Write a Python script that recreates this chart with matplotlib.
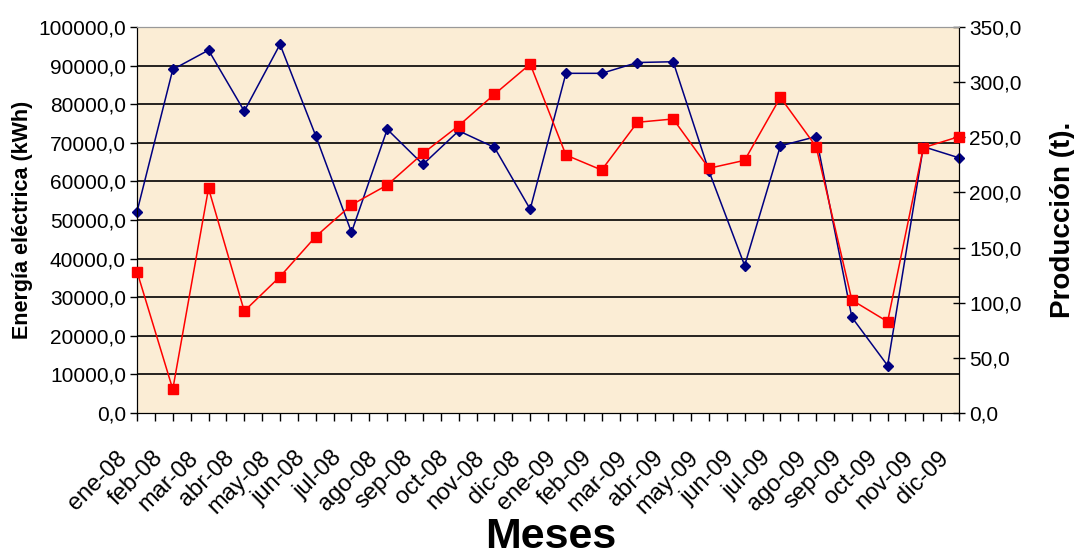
import numpy as np
from matplotlib import pyplot as plt
from matplotlib.ticker import FuncFormatter, MultipleLocator
from matplotlib.transforms import ScaledTranslation

meses = ['ene-08', 'feb-08', 'mar-08', 'abr-08', 'may-08', 'jun-08',
         'jul-08', 'ago-08', 'sep-08', 'oct-08', 'nov-08', 'dic-08',
         'ene-09', 'feb-09', 'mar-09', 'abr-09', 'may-09', 'jun-09',
         'jul-09', 'ago-09', 'sep-09', 'oct-09', 'nov-09', 'dic-09']

# energia electrica (kWh) - eje izquierdo
energia = [52200, 89000, 94000, 78200, 95500, 71800,
           46800, 73500, 64400, 73100, 68800, 52800,
           88000, 88000, 90800, 91000, 62700, 38200,
           69200, 71600, 24800, 12300, 69000, 66100]

# produccion (t) - eje derecho
produccion = [128.1, 21.5, 203.7, 92.4, 123.6, 160.0,
              188.7, 206.7, 235.4, 260.5, 289.0, 316.4,
              233.9, 220.3, 263.6, 266.6, 221.9, 229.1,
              286.2, 241.5, 102.4, 82.8, 240.6, 250.6]

plt.rcParams['font.family'] = ['Liberation Sans', 'DejaVu Sans']

fondo = '#FBEDD5'
coma = FuncFormatter(lambda v, p: ('%.1f' % v).replace('.', ','))

fig = plt.figure(figsize=(10.74, 5.59), dpi=100)
ax = fig.add_axes([0.1276, 0.2612, 0.7654, 0.6905])
ax.set_facecolor(fondo)
ax2 = ax.twinx()

x = np.arange(len(meses))
ax.plot(x, energia, color='#000080', lw=1.1, marker='D', ms=5.5, zorder=4, clip_on=False)
ax2.plot(x, produccion, color='#FF0000', lw=1.1, marker='s', ms=6.5, zorder=3, clip_on=False)

ax.set_xlim(0, len(meses) - 1)
ax.set_ylim(0, 100000)
ax2.set_ylim(0, 350)

ax.yaxis.set_major_locator(MultipleLocator(10000))
ax.yaxis.set_major_formatter(coma)
ax2.yaxis.set_major_locator(MultipleLocator(50))
ax2.yaxis.set_major_formatter(coma)

for g in range(10000, 100000, 10000):
    ax.axhline(g, color='black', lw=1.2, zorder=1)

ax.set_xticks(x)
ax.set_xticks(x[:-1] + 0.5, minor=True)
ax.set_xticklabels(meses, rotation=45, ha='right', rotation_mode='anchor')
ax.tick_params(axis='x', which='both', direction='out', length=6, width=1,
               labelsize=17, pad=12)
ax.tick_params(axis='y', direction='out', length=5, width=1, labelsize=15, pad=3)
ax2.tick_params(axis='y', direction='inout', length=9, width=1, labelsize=15, pad=3)

desplazar = ScaledTranslation(-0.21, -0.09, fig.dpi_scale_trans)
for lbl in ax.get_xticklabels():
    lbl.set_transform(lbl.get_transform() + desplazar)

for a in (ax, ax2):
    a.spines['top'].set_color('#999999')
    a.spines['left'].set_color('black')
    a.spines['right'].set_color('black')
    a.spines['bottom'].set_color('black')

ax.set_ylabel('Energía eléctrica (kWh)', fontsize=15.5, fontweight='bold', labelpad=4)
ax2.set_ylabel('Producción (t).', fontsize=20, fontweight='bold', labelpad=20)
fig.text(0.513, 0.003, 'Meses', fontsize=31, fontweight='bold', ha='center', va='bottom')

fig.savefig('out.png', dpi=100, facecolor='white')
